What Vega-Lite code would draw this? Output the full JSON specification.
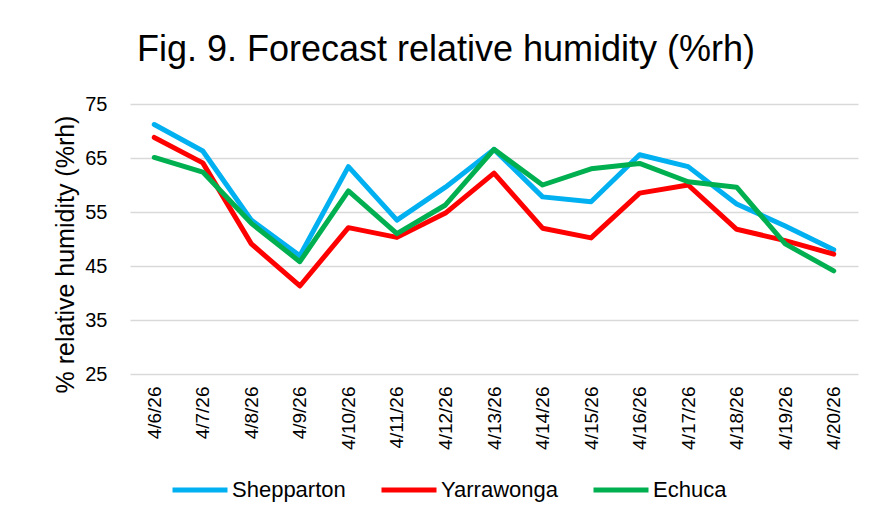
{
  "$schema": "https://vega.github.io/schema/vega-lite/v6.json",
  "width": 728,
  "height": 270,
  "autosize": {"type": "none"},
  "padding": {"left": 130, "top": 104, "right": 17, "bottom": 149},
  "background": "white",
  "title": {
    "text": "Fig. 9. Forecast relative humidity (%rh)",
    "font": "Liberation Sans",
    "fontSize": 36,
    "fontWeight": "normal",
    "color": "#000000",
    "anchor": "middle",
    "dx": -48,
    "offset": 25
  },
  "config": {
    "view": {"stroke": null},
    "font": "Liberation Sans"
  },
  "data": {
    "values": [
      {"date": "4/6/26", "site": "Shepparton", "rh": 71.2},
      {"date": "4/7/26", "site": "Shepparton", "rh": 66.3},
      {"date": "4/8/26", "site": "Shepparton", "rh": 53.5},
      {"date": "4/9/26", "site": "Shepparton", "rh": 46.9},
      {"date": "4/10/26", "site": "Shepparton", "rh": 63.4},
      {"date": "4/11/26", "site": "Shepparton", "rh": 53.5},
      {"date": "4/12/26", "site": "Shepparton", "rh": 59.6},
      {"date": "4/13/26", "site": "Shepparton", "rh": 66.6},
      {"date": "4/14/26", "site": "Shepparton", "rh": 57.8},
      {"date": "4/15/26", "site": "Shepparton", "rh": 56.9},
      {"date": "4/16/26", "site": "Shepparton", "rh": 65.6},
      {"date": "4/17/26", "site": "Shepparton", "rh": 63.4},
      {"date": "4/18/26", "site": "Shepparton", "rh": 56.5},
      {"date": "4/19/26", "site": "Shepparton", "rh": 52.4},
      {"date": "4/20/26", "site": "Shepparton", "rh": 48.0},
      {"date": "4/6/26", "site": "Yarrawonga", "rh": 68.8},
      {"date": "4/7/26", "site": "Yarrawonga", "rh": 64.1},
      {"date": "4/8/26", "site": "Yarrawonga", "rh": 49.1},
      {"date": "4/9/26", "site": "Yarrawonga", "rh": 41.3},
      {"date": "4/10/26", "site": "Yarrawonga", "rh": 52.1},
      {"date": "4/11/26", "site": "Yarrawonga", "rh": 50.3},
      {"date": "4/12/26", "site": "Yarrawonga", "rh": 54.8},
      {"date": "4/13/26", "site": "Yarrawonga", "rh": 62.2},
      {"date": "4/14/26", "site": "Yarrawonga", "rh": 52.0},
      {"date": "4/15/26", "site": "Yarrawonga", "rh": 50.2},
      {"date": "4/16/26", "site": "Yarrawonga", "rh": 58.5},
      {"date": "4/17/26", "site": "Yarrawonga", "rh": 60.0},
      {"date": "4/18/26", "site": "Yarrawonga", "rh": 51.8},
      {"date": "4/19/26", "site": "Yarrawonga", "rh": 49.7},
      {"date": "4/20/26", "site": "Yarrawonga", "rh": 47.2},
      {"date": "4/6/26", "site": "Echuca", "rh": 65.1},
      {"date": "4/7/26", "site": "Echuca", "rh": 62.4},
      {"date": "4/8/26", "site": "Echuca", "rh": 52.9},
      {"date": "4/9/26", "site": "Echuca", "rh": 45.8},
      {"date": "4/10/26", "site": "Echuca", "rh": 58.9},
      {"date": "4/11/26", "site": "Echuca", "rh": 51.0},
      {"date": "4/12/26", "site": "Echuca", "rh": 56.3},
      {"date": "4/13/26", "site": "Echuca", "rh": 66.6},
      {"date": "4/14/26", "site": "Echuca", "rh": 60.0},
      {"date": "4/15/26", "site": "Echuca", "rh": 63.0},
      {"date": "4/16/26", "site": "Echuca", "rh": 64.0},
      {"date": "4/17/26", "site": "Echuca", "rh": 60.6},
      {"date": "4/18/26", "site": "Echuca", "rh": 59.6},
      {"date": "4/19/26", "site": "Echuca", "rh": 49.1},
      {"date": "4/20/26", "site": "Echuca", "rh": 44.1}
    ]
  },
  "encoding": {
    "x": {
      "field": "date",
      "type": "ordinal",
      "sort": null,
      "title": null,
      "axis": {
        "labelAngle": -90,
        "labelFontSize": 19,
        "labelColor": "#000000",
        "labelPadding": 12,
        "ticks": false,
        "tickSize": 0,
        "domain": false,
        "grid": false
      }
    },
    "y": {
      "field": "rh",
      "type": "quantitative",
      "scale": {"domain": [25, 75], "nice": false, "zero": false},
      "title": "% relative humidity (%rh)",
      "axis": {
        "values": [25, 35, 45, 55, 65, 75],
        "labelFontSize": 20,
        "labelColor": "#000000",
        "labelPadding": 23,
        "ticks": false,
        "tickSize": 0,
        "domain": false,
        "grid": true,
        "gridColor": "#d9d9d9",
        "gridWidth": 1.5,
        "titleFontSize": 25,
        "titleFontWeight": "normal",
        "titleColor": "#000000",
        "titleX": -57,
        "titleY": 150,
        "titleAngle": 270,
        "titleBaseline": "alphabetic"
      }
    },
    "color": {
      "field": "site",
      "type": "nominal",
      "scale": {
        "domain": ["Shepparton", "Yarrawonga", "Echuca"],
        "range": ["#00B0F0", "#FF0000", "#00B050"]
      },
      "legend": {
        "title": null,
        "orient": "none",
        "direction": "horizontal",
        "legendX": 40,
        "legendY": 356,
        "padding": 0,
        "symbolType": "stroke",
        "symbolSize": 3025,
        "symbolStrokeWidth": 5,
        "labelFontSize": 22,
        "labelColor": "#000000",
        "labelOffset": 2,
        "columnPadding": 25
      }
    }
  },
  "layer": [
    {
      "transform": [{"filter": "datum.site === 'Shepparton'"}],
      "mark": {"type": "line", "strokeWidth": 5, "strokeCap": "round", "strokeJoin": "round"}
    },
    {
      "transform": [{"filter": "datum.site === 'Yarrawonga'"}],
      "mark": {"type": "line", "strokeWidth": 5, "strokeCap": "round", "strokeJoin": "round"}
    },
    {
      "transform": [{"filter": "datum.site === 'Echuca'"}],
      "mark": {"type": "line", "strokeWidth": 5, "strokeCap": "round", "strokeJoin": "round"}
    }
  ]
}
